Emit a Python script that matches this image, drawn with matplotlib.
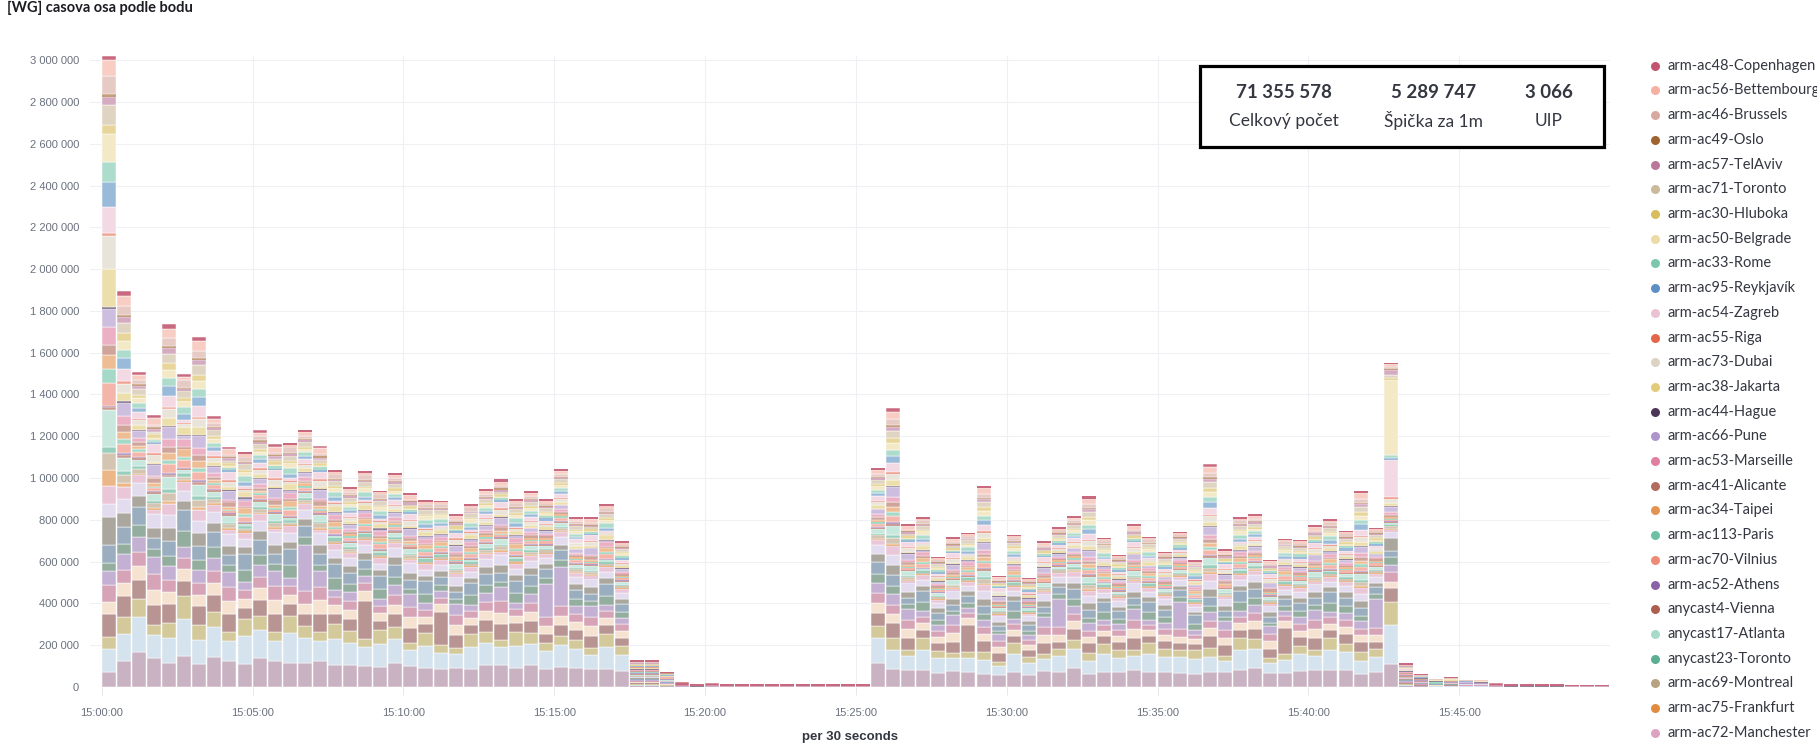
import numpy as np
import matplotlib
matplotlib.use("Agg")
import matplotlib.pyplot as plt
from matplotlib.colors import to_rgb
from matplotlib.patches import Rectangle

# bar totals per 30 s bin (thousands), 15:00:00 .. 15:49:30
totals_k = [3018, 1896, 1509, 1300, 1736, 1496, 1675, 1298, 1151, 1124,
            1230, 1161, 1169, 1230, 1155, 1040, 958, 1032, 940, 1026,
            929, 893, 891, 827, 877, 950, 994, 899, 936, 898,
            1043, 813, 813, 874, 698, 130, 130, 74, 26, 15,
            20, 12, 12, 12, 12, 12, 12, 12, 12, 12,
            12, 1048, 1334, 779, 813, 622, 717, 738, 963, 531,
            728, 522, 698, 765, 818, 912, 715, 634, 778, 720,
            648, 742, 606, 1067, 659, 813, 826, 608, 710, 704,
            773, 803, 749, 938, 762, 1553, 114, 61, 40, 46,
            35, 34, 18, 15, 15, 15, 15, 11, 11, 11]
totals = np.array(totals_k) * 1000

tick_pos = [0, 10, 20, 30, 40, 50, 60, 70, 80, 90]
tick_labels = ["15:00:00", "15:05:00", "15:10:00", "15:15:00", "15:20:00",
               "15:25:00", "15:30:00", "15:35:00", "15:40:00", "15:45:00"]

legend_names = ["arm-ac48-Copenhagen", "arm-ac56-Bettembourg", "arm-ac46-Brussels",
                "arm-ac49-Oslo", "arm-ac57-TelAviv", "arm-ac71-Toronto",
                "arm-ac30-Hluboka", "arm-ac50-Belgrade", "arm-ac33-Rome",
                "arm-ac95-Reykjavík", "arm-ac54-Zagreb", "arm-ac55-Riga",
                "arm-ac73-Dubai", "arm-ac38-Jakarta", "arm-ac44-Hague",
                "arm-ac66-Pune", "arm-ac53-Marseille", "arm-ac41-Alicante",
                "arm-ac34-Taipei", "arm-ac113-Paris", "arm-ac70-Vilnius",
                "arm-ac52-Athens", "anycast4-Vienna", "anycast17-Atlanta",
                "anycast23-Toronto", "arm-ac69-Montreal", "arm-ac75-Frankfurt",
                "arm-ac72-Manchester"]
legend_colors = ["#c2546f", "#f4b0a0", "#d7a9a0", "#a0622e", "#b9789a", "#cbb99c",
                 "#d9bc5c", "#ecdba4", "#7cc7ac", "#5c90c4", "#ebc2d4", "#e5654a",
                 "#dcd3c3", "#e2cc79", "#4b3558", "#ae94cc", "#e07fa0", "#b06d5e",
                 "#e39450", "#6cc0a4", "#ee8a76", "#8b62a8", "#ad5e4f", "#a6dac9",
                 "#5aaf93", "#b8a282", "#e08b3e", "#dca4c0"]

# series further down the (scrolled) legend, bottom of the stack
hidden_colors = ["#c9b3c2", "#d5e3ee", "#d4c99b", "#b89592", "#f6e2d0", "#d6a3b7",
                 "#c3b0d3", "#93ad9f", "#9aaec0", "#aba69e", "#e3dcef"]

# estimated mix of each bar, one letter per bin
bar_profile = ("PHABHCH" + "ABCABCDBCAECABCEBCABCADDABCA" + "TTT" + "Q" * 13 +
               "AHBCABEHBC" + "ABDAHCABCA" + "DCHBCABEAB" + "CAHD" +
               "K" + "TTTTTT" + "Q" * 8)

hidden_w = {
    "A": [110, 110, 55, 60, 45, 45, 45, 40, 55, 35, 40],
    "B": [115, 90, 40, 80, 60, 60, 70, 30, 45, 40, 55],
    "C": [105, 125, 75, 50, 40, 40, 35, 55, 70, 30, 35],
    "D": [105, 110, 50, 55, 45, 55, 200, 35, 50, 30, 40],
    "E": [110, 100, 45, 200, 50, 40, 40, 35, 50, 35, 40],
    "H": [110, 115, 70, 90, 55, 55, 65, 45, 70, 60, 60],
    "P": [90, 140, 75, 140, 70, 105, 85, 50, 110, 170, 80],
    "K": [112, 184, 112, 64, 30, 50, 30, 40, 30, 60, 30],
    "T": [8, 6, 6, 8, 5, 5, 6, 4, 6, 5, 4],
    "Q": [0.4, 0, 0.3, 0, 0, 0, 0, 0, 0, 0, 0],
}
legend_w = {
    "A": [10, 15, 15, 5, 8, 20, 10, 15, 15, 15, 20, 5, 15, 15, 4, 20, 15, 12, 10, 8, 15, 4, 6, 20, 8, 15, 5, 25],
    "B": [12, 25, 10, 6, 12, 10, 14, 8, 10, 8, 35, 8, 25, 10, 5, 40, 10, 20, 15, 6, 10, 3, 8, 30, 6, 20, 8, 15],
    "C": [10, 10, 25, 4, 6, 25, 8, 20, 25, 20, 10, 4, 10, 25, 6, 10, 25, 8, 25, 12, 25, 5, 4, 10, 12, 10, 6, 30],
    "D": [10, 15, 15, 5, 8, 20, 10, 15, 15, 15, 20, 5, 15, 15, 4, 20, 15, 12, 10, 8, 15, 4, 6, 20, 8, 15, 5, 25],
    "E": [10, 10, 25, 4, 6, 25, 8, 20, 25, 20, 10, 4, 10, 25, 6, 10, 25, 8, 25, 12, 25, 5, 4, 10, 12, 10, 6, 30],
    "H": [20, 45, 35, 10, 25, 45, 30, 40, 35, 45, 50, 12, 40, 35, 8, 55, 35, 30, 30, 20, 40, 8, 12, 55, 18, 35, 15, 50],
    "P": [20, 100, 110, 15, 50, 120, 60, 170, 120, 150, 160, 20, 200, 230, 12, 110, 110, 60, 90, 80, 140, 10, 20, 220, 40, 100, 100, 110],
    "K": [8, 15, 10, 5, 20, 15, 10, 360, 12, 10, 180, 8, 20, 15, 5, 20, 15, 10, 8, 5, 8, 3, 5, 10, 5, 12, 5, 10],
    "T": [12, 4, 5, 3, 6, 5, 3, 3, 2, 3, 4, 3, 4, 2, 7, 3, 4, 5, 4, 2, 3, 9, 6, 2, 2, 4, 3, 3],
    "Q": [10, 0.4, 0, 0, 0.4, 0.3, 0, 0, 0, 0, 0, 0, 0, 0, 0.4, 0, 0, 0, 0, 0, 0, 0.8, 0, 0, 0, 0.4, 0, 0],
}

stat_values = ["71 355 578", "5 289 747", "3 066"]
stat_labels = ["Celkový počet", "Špička za 1m", "UIP"]


def fade(c, a):
    r, g, b = to_rgb(c)
    return (1 - a + a * r, 1 - a + a * g, 1 - a + a * b)


n_hidden = len(hidden_colors)
n_series = n_hidden + len(legend_names)
vals = np.zeros((n_series, len(totals)))
for i, p in enumerate(bar_profile):
    w = np.array(hidden_w[p] + legend_w[p][::-1], dtype=float)
    vals[:, i] = totals[i] * w / w.sum()

stack_colors = hidden_colors + [fade(c, 0.88 if k == 0 else 0.62)
                                for k, c in enumerate(legend_colors)][::-1]

W, H = 1817, 754
fig = plt.figure(figsize=(W / 100, H / 100), dpi=100)
ax = fig.add_axes([90 / W, 1 - 687 / H, 1520 / W, 631 / H])

x = np.arange(len(totals))
bottom = np.zeros(len(totals))
for s in range(n_series):
    ax.bar(x, vals[s], width=0.93, bottom=bottom, align="edge",
           color=stack_colors[s], edgecolor="white",
           linewidth=np.where(vals[s] > 12000, 0.35, 0))
    bottom += vals[s]

ax.set_xlim(-0.78, 100)
ax.set_ylim(0, 3_020_000)
yt = np.arange(0, 3_000_001, 200_000)
ax.set_yticks(yt)
ax.set_yticklabels([f"{v:,}".replace(",", " ") for v in yt])
ax.set_xticks(tick_pos)
ax.set_xticklabels(tick_labels)
ax.grid(color="#eef0f3", linewidth=0.8)
ax.set_axisbelow(True)
for sp in ax.spines.values():
    sp.set_visible(False)
ax.tick_params(axis="y", length=0, pad=8, labelsize=8, labelcolor="#6a717d")
ax.tick_params(axis="x", length=6, width=0.6, color="#dfe3e8", pad=9,
               labelsize=8, labelcolor="#6a717d")
for t in ax.get_xticklabels() + ax.get_yticklabels():
    t.set_fontfamily("Liberation Sans")

fig.text(850 / W, 1 - 737 / H, "per 30 seconds", ha="center", va="center",
         fontsize=9.5, fontweight="bold", color="#343741", family="Liberation Sans")

# overlay in pixel coordinates for title, stats box and legend
lax = fig.add_axes([0, 0, 1, 1])
lax.set_xlim(0, W)
lax.set_ylim(H, 0)
lax.axis("off")
lax.patch.set_alpha(0)
font = ["Lato", "DejaVu Sans"]

lax.text(7, 8, "[WG] casova osa podle bodu", ha="left", va="center", family=font,
         fontsize=10.5, fontweight="bold", color="#1a1c21")

lax.add_patch(Rectangle((1199.5, 65.5), 404, 81, facecolor="white",
                        edgecolor="black", linewidth=2.3))
for cx, v, lab in zip([1284, 1434, 1549], stat_values, stat_labels):
    lax.text(cx, 93, v, ha="center", va="center", family=font, fontsize=13.5,
             fontweight="bold", color="#343741")
    lax.text(cx, 121, lab, ha="center", va="center", family=font, fontsize=12.5,
             color="#343741")

for k, (name, c) in enumerate(zip(legend_names, legend_colors)):
    y = 65.7 + 24.71 * k
    lax.scatter([1655], [y], s=42, color=c, linewidths=0)
    lax.text(1668, y, name, ha="left", va="center", family=font, fontsize=10.5,
             color="#343741")

fig.savefig("out.png", dpi=100)
